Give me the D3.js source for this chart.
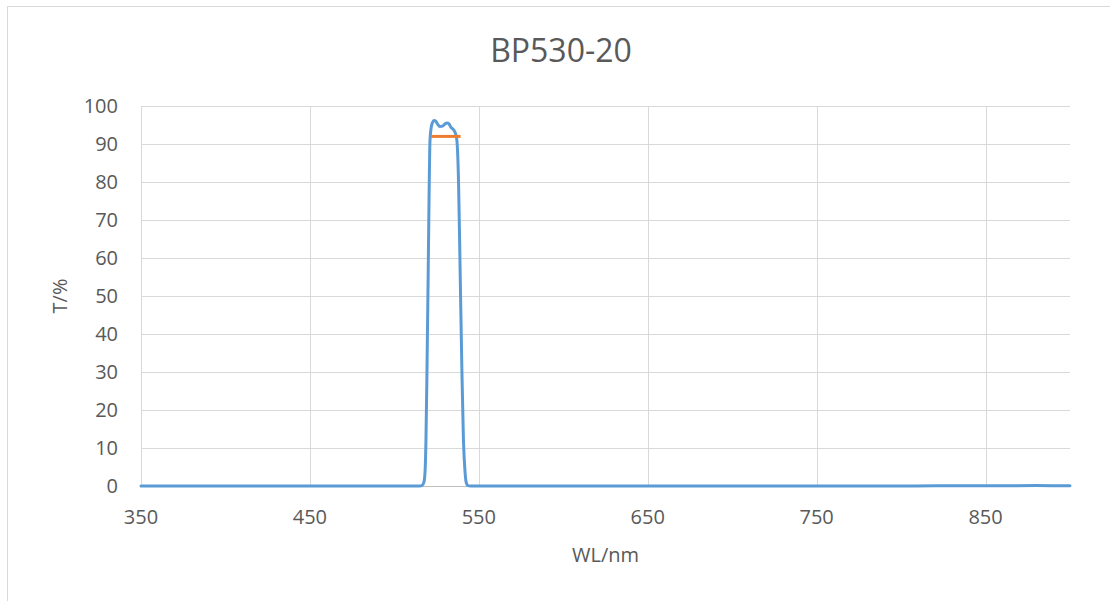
<!DOCTYPE html>
<html>
<head>
<meta charset="utf-8">
<script src="https://cdn.jsdelivr.net/npm/d3@7/dist/d3.min.js"></script>
<style>
  html, body { margin: 0; padding: 0; background: #fff; }
  svg { display: block; }
  text { font-family: "Open Sans", "Liberation Sans", sans-serif; fill: #595959; }
</style>
</head>
<body>
<svg id="chart" width="1110" height="601"></svg>
<script>
// ---- data ----
const chartTitle = "BP530-20";
const xTitle = "WL/nm";
const yTitle = "T/%";
const xTicks = [350, 450, 550, 650, 750, 850];
const yTicks = [0, 10, 20, 30, 40, 50, 60, 70, 80, 90, 100];
const wavelength = [350, 400, 450, 500, 510, 515, 516.5, 517.5, 518.2, 518.7, 519.3, 520, 520.6, 521.1, 521.7, 522.5, 523.5, 524.5, 525.5, 527, 528.5, 530, 531.5, 532.5, 533.5, 535, 536, 537, 538, 539, 540, 540.9, 541.8, 542.5, 543.5, 545, 560, 600, 700, 800, 820, 850, 880, 900];
const transmission = [0, 0, 0, 0, 0, 0, 0.2, 1, 4, 12, 30, 55, 78, 91, 94, 95.6, 96.2, 96, 95.3, 94.6, 94.7, 95.3, 95.5, 95.2, 94.4, 93.8, 93, 91, 80, 55, 30, 12, 4, 1, 0.1, 0, 0, 0, 0, 0.02, 0.05, 0.08, 0.1, 0.08];
const avgWl = [521.7, 539.2];
const avgT = [92, 92];

// ---- layout ----
const svg = d3.select("#chart");
const pLeft = 141, pRight = 1070, pTop = 106, pBottom = 486;
const x = d3.scaleLinear().domain([350, 900]).range([pLeft, pRight]);
const y = d3.scaleLinear().domain([0, 100]).range([pBottom, pTop]);

// chart border
svg.append("rect").attr("x", 7.5).attr("y", 6.5).attr("width", 1200).attr("height", 700)
  .attr("fill", "none").attr("stroke", "#d9d9d9").attr("stroke-width", 1);

// horizontal gridlines
svg.append("g").selectAll("line").data(yTicks.filter(d => d > 0)).join("line")
  .attr("x1", pLeft).attr("x2", pRight)
  .attr("y1", d => Math.round(y(d)) + 0.5).attr("y2", d => Math.round(y(d)) + 0.5)
  .attr("stroke", "#d9d9d9").attr("stroke-width", 1);

// vertical gridlines
svg.append("g").selectAll("line").data(xTicks).join("line")
  .attr("x1", d => Math.round(x(d)) + 0.5).attr("x2", d => Math.round(x(d)) + 0.5)
  .attr("y1", pTop).attr("y2", pBottom)
  .attr("stroke", "#d9d9d9").attr("stroke-width", 1);

// x axis line
svg.append("line").attr("x1", pLeft).attr("x2", pRight)
  .attr("y1", Math.round(y(0)) + 0.5).attr("y2", Math.round(y(0)) + 0.5)
  .attr("stroke", "#bfbfbf").attr("stroke-width", 1);

// y tick labels
svg.append("g").selectAll("text").data(yTicks).join("text")
  .attr("x", pLeft - 23).attr("y", d => y(d)).attr("dy", "0.36em")
  .attr("text-anchor", "end").style("font-size", "20px")
  .text(d => d);

// x tick labels
svg.append("g").selectAll("text").data(xTicks).join("text")
  .attr("x", d => x(d)).attr("y", 524)
  .attr("text-anchor", "middle").style("font-size", "20px")
  .text(d => d);

// axis titles
svg.append("text").attr("x", (pLeft + pRight) / 2).attr("y", 562)
  .attr("text-anchor", "middle").style("font-size", "20px").text(xTitle);
svg.append("text").attr("transform", `translate(67,${(pTop + pBottom) / 2}) rotate(-90)`)
  .attr("text-anchor", "middle").style("font-size", "20px").text(yTitle);

// title
svg.append("text").attr("x", 561).attr("y", 62)
  .attr("text-anchor", "middle").style("font-size", "32px").text(chartTitle);

// transmission curve
const pts = wavelength.map((w, i) => [w, transmission[i]]);
const line = d3.line().x(d => x(d[0])).y(d => y(d[1])).curve(d3.curveMonotoneX);
svg.append("path").datum(pts).attr("d", line)
  .attr("fill", "none").attr("stroke", "#5b9bd5").attr("stroke-width", 3)
  .attr("stroke-linejoin", "round").attr("stroke-linecap", "round");

// average line
const avgPts = avgWl.map((w, i) => [w, avgT[i]]);
svg.append("path").datum(avgPts).attr("d", d3.line().x(d => x(d[0])).y(d => y(d[1])))
  .attr("fill", "none").attr("stroke", "#ed7d31").attr("stroke-width", 3);
</script>
</body>
</html>
